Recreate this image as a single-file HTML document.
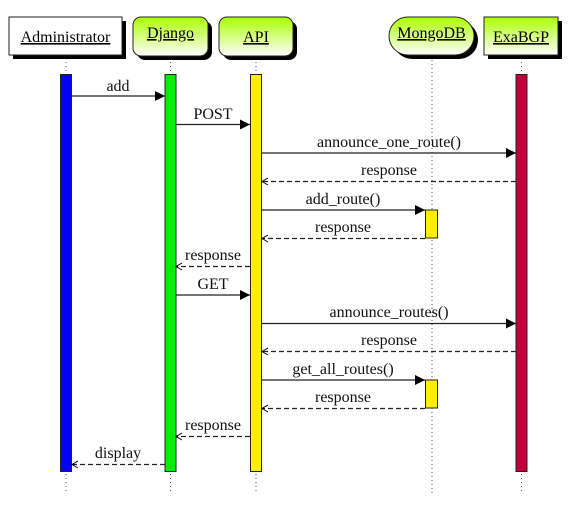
<!DOCTYPE html>
<html><head><meta charset="utf-8"><style>
html,body{margin:0;padding:0;background:#fff;}
svg{display:block;}
svg text{font-family:"Liberation Serif","DejaVu Serif","Noto Serif CJK SC",serif;font-size:16px;}
</style></head><body>
<svg width="571" height="506" viewBox="0 0 571 506" xmlns="http://www.w3.org/2000/svg">
<defs>
<linearGradient id="g" x1="0" y1="0" x2="0" y2="1">
<stop offset="0" stop-color="#aaff00"/><stop offset="1" stop-color="#ffffff"/>
</linearGradient>
<marker id="fa" markerWidth="10" markerHeight="10" refX="10" refY="5" orient="auto" markerUnits="userSpaceOnUse">
<path d="M0,0 L10,5 L0,10 Z" fill="#000"/></marker>
<marker id="oa" markerWidth="9" markerHeight="9" refX="7" refY="4" orient="auto" markerUnits="userSpaceOnUse">
<path d="M1,0.5 L7,4 L1,7.5" fill="none" stroke="#000" stroke-width="1"/></marker>
</defs>
<g stroke="#555" stroke-width="1" stroke-dasharray="1,3">
<line x1="66" y1="58" x2="66" y2="494"/>
<line x1="170.5" y1="58" x2="170.5" y2="494"/>
<line x1="256" y1="58" x2="256" y2="494"/>
<line x1="432" y1="60" x2="432" y2="494"/>
<line x1="521.5" y1="58" x2="521.5" y2="494"/>
</g>
<rect x="13" y="21" width="113" height="38" fill="#000"/>
<rect x="9" y="17" width="113" height="38" fill="#fff" stroke="#222"/>
<text x="65.5" y="42" text-anchor="middle" text-decoration="underline">Administrator</text>
<rect x="137" y="21" width="75" height="39" rx="8" fill="#000"/>
<rect x="133" y="17" width="75" height="39" rx="8" fill="url(#g)" stroke="#222"/>
<text x="170.5" y="38" text-anchor="middle" text-decoration="underline">Django</text>
<rect x="223" y="21" width="74" height="39" rx="8" fill="#000"/>
<rect x="219" y="17" width="74" height="39" rx="8" fill="url(#g)" stroke="#222"/>
<text x="256" y="42" text-anchor="middle" text-decoration="underline">API</text>
<rect x="393" y="21" width="85" height="38" rx="19" fill="#000"/>
<rect x="389" y="17" width="85" height="38" rx="19" fill="url(#g)" stroke="#222"/>
<text x="431.5" y="38" text-anchor="middle" text-decoration="underline">MongoDB</text>
<rect x="488" y="21" width="74" height="38" fill="#000"/>
<rect x="484" y="17" width="74" height="38" fill="url(#g)" stroke="#222"/>
<text x="521" y="42" text-anchor="middle" text-decoration="underline">ExaBGP</text>
<g stroke="#222" stroke-width="1">
<rect x="60.5" y="74.5" width="11" height="397" fill="#0000ff"/>
<rect x="165" y="74.5" width="11" height="397" fill="#00ee00"/>
<rect x="250.5" y="74.5" width="11" height="397" fill="#ffee00"/>
<rect x="516" y="74.5" width="11" height="397" fill="#c0003c"/>
<rect x="425.5" y="210" width="12" height="28" fill="#ffee00"/>
<rect x="425.5" y="380" width="12" height="28" fill="#ffee00"/>
</g>
<g stroke="#222" stroke-width="1.2" fill="none">
<line x1="72" y1="96" x2="165" y2="96" marker-end="url(#fa)"/>
<line x1="176" y1="124.5" x2="250" y2="124.5" marker-end="url(#fa)"/>
<line x1="262" y1="153" x2="516" y2="153" marker-end="url(#fa)"/>
<line x1="516" y1="181.5" x2="262" y2="181.5" stroke-dasharray="5,3" marker-end="url(#oa)"/>
<line x1="262" y1="210" x2="425" y2="210" marker-end="url(#fa)"/>
<line x1="425" y1="238.5" x2="262" y2="238.5" stroke-dasharray="5,3" marker-end="url(#oa)"/>
<line x1="250" y1="266.5" x2="176" y2="266.5" stroke-dasharray="5,3" marker-end="url(#oa)"/>
<line x1="176" y1="295" x2="250" y2="295" marker-end="url(#fa)"/>
<line x1="262" y1="323.5" x2="516" y2="323.5" marker-end="url(#fa)"/>
<line x1="516" y1="351.5" x2="262" y2="351.5" stroke-dasharray="5,3" marker-end="url(#oa)"/>
<line x1="262" y1="380" x2="425" y2="380" marker-end="url(#fa)"/>
<line x1="425" y1="408.5" x2="262" y2="408.5" stroke-dasharray="5,3" marker-end="url(#oa)"/>
<line x1="250" y1="436.5" x2="176" y2="436.5" stroke-dasharray="5,3" marker-end="url(#oa)"/>
<line x1="165" y1="464.5" x2="72" y2="464.5" stroke-dasharray="5,3" marker-end="url(#oa)"/>
</g>
<g text-anchor="middle" fill="#111">
<text x="118" y="91">add</text>
<text x="213" y="119">POST</text>
<text x="389" y="147">announce_one_route()</text>
<text x="389" y="175">response</text>
<text x="343" y="204">add_route()</text>
<text x="343" y="232">response</text>
<text x="213" y="260">response</text>
<text x="213" y="289">GET</text>
<text x="389" y="317">announce_routes()</text>
<text x="389" y="345">response</text>
<text x="343" y="374">get_all_routes()</text>
<text x="343" y="402">response</text>
<text x="213" y="430">response</text>
<text x="118" y="458">display</text>
</g>
</svg>
</body></html>
